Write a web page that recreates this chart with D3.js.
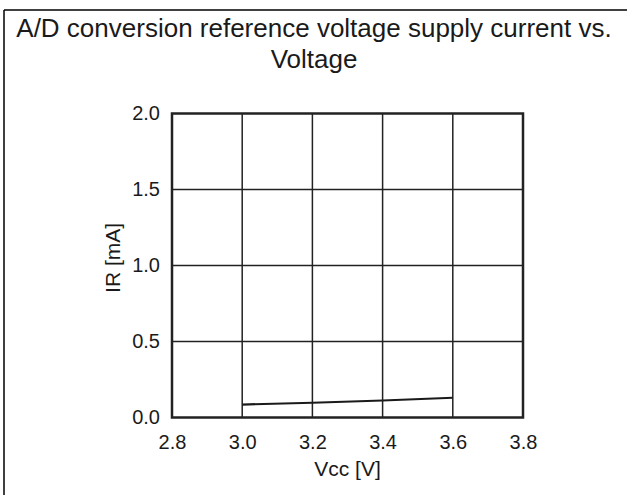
<!DOCTYPE html>
<html>
<head>
<meta charset="utf-8">
<script src="https://cdn.jsdelivr.net/npm/d3@7"></script>
<style>
  body { margin: 0; background: #fff; }
  text { font-family: "Liberation Sans", Arial, sans-serif; fill: #1a1a1a; }
</style>
</head>
<body>
<svg width="627" height="495"></svg>
<script>
// values
const titleLines = ["A/D conversion reference voltage supply current vs.", "Voltage"];
const vcc = [3.0, 3.2, 3.4, 3.6];
const ir = [0.085, 0.097, 0.112, 0.13];
const xTicks = [2.8, 3.0, 3.2, 3.4, 3.6, 3.8];
const yTicks = [0.0, 0.5, 1.0, 1.5, 2.0];

let svg = d3.select("svg");

// frame of the table cell
svg.append("line").attr("x1", 4).attr("y1", 10).attr("x2", 627).attr("y2", 10)
	.attr("stroke", "#000").attr("stroke-width", 1.5);
svg.append("line").attr("x1", 4).attr("y1", 10).attr("x2", 4).attr("y2", 495)
	.attr("stroke", "#000").attr("stroke-width", 1.5);

svg.selectAll(".title").data(titleLines).enter().append("text")
	.attr("class", "title")
	.attr("x", 314).attr("y", (d, i) => 37 + i * 31)
	.attr("text-anchor", "middle")
	.attr("font-size", 26)
	.attr("fill", "#111")
	.text(d => d);

const pLeft = 172, pRight = 523, pTop = 113.5, pBottom = 417.5;
let x = d3.scaleLinear().domain([2.8, 3.8]).range([pLeft, pRight]);
let y = d3.scaleLinear().domain([0, 2]).range([pBottom, pTop]);

// grid
let grid = svg.append("g").attr("stroke", "#222").attr("stroke-width", 1.5);
grid.selectAll(".gx").data(xTicks.slice(1, -1)).enter().append("line")
	.attr("x1", d => x(d)).attr("x2", d => x(d))
	.attr("y1", pTop).attr("y2", pBottom);
grid.selectAll(".gy").data(yTicks.slice(1, -1)).enter().append("line")
	.attr("x1", pLeft).attr("x2", pRight)
	.attr("y1", d => y(d)).attr("y2", d => y(d));

// axes, only the labels
let xAxis = svg.append("g").attr("transform", `translate(0,${pBottom})`)
	.call(d3.axisBottom(x).tickValues(xTicks).tickFormat(d3.format(".1f")).tickSize(0).tickPadding(17));
let yAxis = svg.append("g").attr("transform", `translate(${pLeft},0)`)
	.call(d3.axisLeft(y).tickValues(yTicks).tickFormat(d3.format(".1f")).tickSize(0).tickPadding(12));
[xAxis, yAxis].forEach(a => {
	a.select(".domain").remove();
	a.selectAll("text").attr("font-size", 20).attr("fill", "#1a1a1a")
		.style("font-family", '"Liberation Sans", Arial, sans-serif');
});

// data line
svg.append("path").datum(vcc.map((v, i) => [v, ir[i]]))
	.attr("fill", "none").attr("stroke", "#1a1a1a").attr("stroke-width", 2.2)
	.attr("d", d3.line().x(d => x(d[0])).y(d => y(d[1])));

// plot frame
svg.append("rect").attr("x", pLeft).attr("y", pTop)
	.attr("width", pRight - pLeft).attr("height", pBottom - pTop)
	.attr("fill", "none").attr("stroke", "#222").attr("stroke-width", 2.5);

svg.append("text").attr("x", x(3.3)).attr("y", 476)
	.attr("text-anchor", "middle").attr("font-size", 21).attr("fill", "#333")
	.text("Vcc [V]");
svg.append("text")
	.attr("transform", `translate(120,${y(1.05)}) rotate(-90)`)
	.attr("text-anchor", "middle").attr("font-size", 21).attr("fill", "#333")
	.text("IR [mA]");
</script>
</body>
</html>
